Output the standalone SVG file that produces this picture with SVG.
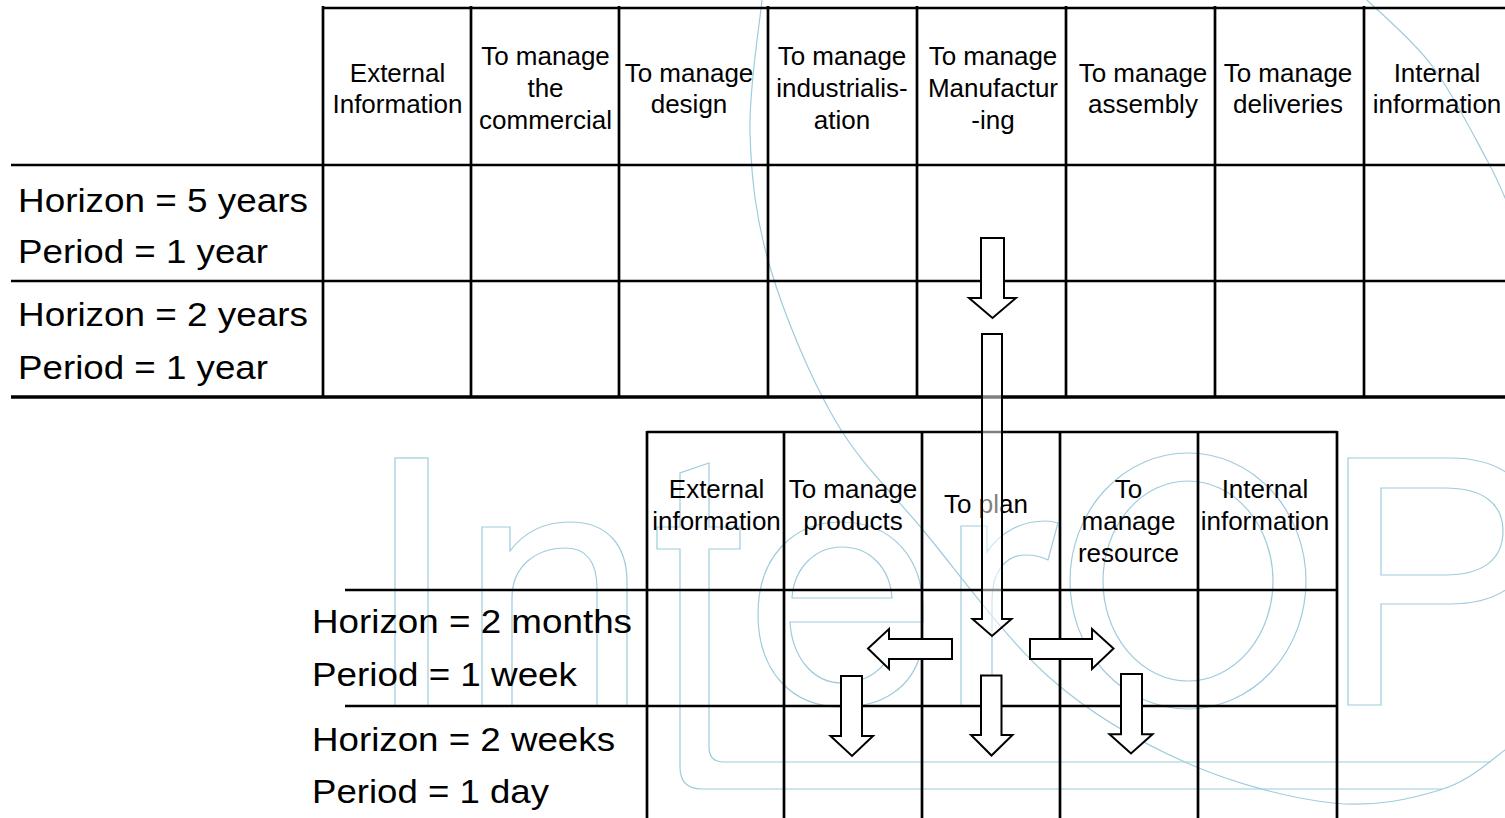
<svg xmlns="http://www.w3.org/2000/svg" width="1505" height="818" viewBox="0 0 1505 818">
  <style>
    .wm{fill:none;stroke:#9fcbdd;stroke-width:1.2}
    .grid{fill:none;stroke:#000;stroke-width:2.7}
    .thick{stroke-width:3.5}
    .hd{font-family:"Liberation Sans",Arial,sans-serif;font-size:26px;fill:#000;text-anchor:middle}
    .lbl{font-family:"Liberation Sans",Arial,sans-serif;font-size:33px;fill:#000}
    .arrow{fill:#fff;stroke:#000;stroke-width:2;stroke-linejoin:miter}
    .arrow-see{fill:#fff;fill-opacity:0.5;stroke:#000;stroke-width:2;stroke-linejoin:miter}
  </style>

  <rect x="0" y="0" width="1505" height="818" fill="#fff"/>

  <!-- light-blue logo outline in the background -->
  <g id="watermark" class="wm">
    <!-- I -->
    <rect x="395" y="458" width="33" height="248"/>
    <!-- n -->
    <path d="M482,706 V527 H510 V551 C525,531 546,522 570,522 C608,522 627,546 627,582 V706 H597 V588 C597,562 586,548 566,548 C536,548 512,566 512,598 V706 Z"/>
    <!-- t with the underline sweep -->
    <path d="M1490,762 H724 Q709,762 709,747 V549 H740 V527 H709 V463 L680,473 V527 H657 V549 H680 V767 Q680,789 702,789 H1442"/>
    <!-- e -->
    <path d="M923,622 H790 C792,656 812,683 842,683 C866,683 885,670 893,648 L921,652 C912,688 882,707 842,707 C792,707 758,672 758,614 C758,558 792,522 841,522 C891,522 923,557 923,610 Z"/>
    <path d="M792,598 H892 C890,568 870,547 842,547 C815,547 794,568 792,598 Z"/>
    <!-- r -->
    <path d="M961,706 V526 H987 V552 C1000,532 1022,521 1045,521 C1050,521 1055,522 1058,523 L1048,560 C1042,557 1034,555 1026,555 C1005,555 992,572 992,600 V706 Z"/>
    <!-- O -->
    <ellipse cx="1188" cy="581" rx="118" ry="128"/>
    <ellipse cx="1188" cy="581" rx="85" ry="100"/>
    <!-- P -->
    <path d="M1348,705 V458 H1450 C1495,458 1535,478 1535,531 C1535,584 1495,604 1450,604 H1381 V705 Z"/>
    <path d="M1381,488 H1445 C1482,488 1503,503 1503,531 C1503,560 1482,575 1445,575 H1381 Z"/>
    <!-- swoosh -->
    <path d="M762,0 C760,22 748.7,88.5 750,133 C751.3,177.5 755.8,219.2 770,267 C784.2,314.8 809.5,376.2 835,420 C860.5,463.8 887.2,487 923,530 C958.8,573 1006,639.2 1050,678 C1094,716.8 1139.8,742.2 1187,763 C1234.2,783.8 1290.8,798.5 1333,803 C1375.2,807.5 1411.3,798.8 1440,790 C1468.7,781.2 1485,765 1505,750 C1525,735 1545,715 1560,700"/>
    <path d="M1367,0 C1378,11 1413,40 1433,67 C1453,94 1475,138 1487,160 C1499,182 1502,190 1510,210"/>
  </g>

  <!-- upper grid: long-range levels -->
  <g id="strategic-grid" class="grid">
    <line x1="323" y1="8" x2="1505" y2="8"/>
    <line x1="11" y1="165" x2="1505" y2="165"/>
    <line x1="11" y1="281" x2="1505" y2="281"/>
    <line x1="11" y1="397" x2="1505" y2="397" class="thick"/>
    <line x1="323" y1="6" x2="323" y2="396"/>
    <line x1="471" y1="6" x2="471" y2="396"/>
    <line x1="619" y1="6" x2="619" y2="396"/>
    <line x1="768" y1="6" x2="768" y2="396"/>
    <line x1="917" y1="6" x2="917" y2="396"/>
    <line x1="1066" y1="6" x2="1066" y2="396"/>
    <line x1="1215" y1="6" x2="1215" y2="396"/>
    <line x1="1364" y1="6" x2="1364" y2="396"/>
  </g>

  <!-- lower grid: short-range levels -->
  <g id="tactical-grid" class="grid">
    <line x1="647" y1="432" x2="1337" y2="432"/>
    <line x1="345" y1="590" x2="1336" y2="590"/>
    <line x1="345" y1="706" x2="1336" y2="706"/>
    <line x1="647" y1="431" x2="647" y2="818"/>
    <line x1="784" y1="431" x2="784" y2="818"/>
    <line x1="922" y1="431" x2="922" y2="818"/>
    <line x1="1060" y1="431" x2="1060" y2="818"/>
    <line x1="1198" y1="431" x2="1198" y2="818"/>
    <line x1="1337" y1="431" x2="1337" y2="818"/>
  </g>

  <!-- upper column headers -->
  <g id="col-external-information" class="hd"><text x="397.5" y="82">External</text><text x="397.5" y="113">Information</text></g>
  <g id="col-commercial" class="hd"><text x="545.5" y="65">To manage</text><text x="545.5" y="97">the</text><text x="545.5" y="128.5">commercial</text></g>
  <g id="col-design" class="hd"><text x="689" y="82">To manage</text><text x="689" y="113">design</text></g>
  <g id="col-industrialisation" class="hd"><text x="842" y="65">To manage</text><text x="842" y="97">industrialis-</text><text x="842" y="128.5">ation</text></g>
  <g id="col-manufacturing" class="hd"><text x="993" y="65">To manage</text><text x="993" y="97">Manufactur</text><text x="993" y="128.5">-ing</text></g>
  <g id="col-assembly" class="hd"><text x="1143" y="82">To manage</text><text x="1143" y="113">assembly</text></g>
  <g id="col-deliveries" class="hd"><text x="1288" y="82">To manage</text><text x="1288" y="113">deliveries</text></g>
  <g id="col-internal-information" class="hd"><text x="1437" y="82">Internal</text><text x="1437" y="113">information</text></g>

  <!-- upper row labels -->
  <g id="row-5-years" class="lbl">
    <text x="18" y="211.5" textLength="290" lengthAdjust="spacingAndGlyphs">Horizon = 5 years</text>
    <text x="18" y="262.5" textLength="250" lengthAdjust="spacingAndGlyphs">Period = 1 year</text>
  </g>
  <g id="row-2-years" class="lbl">
    <text x="18" y="325.5" textLength="290" lengthAdjust="spacingAndGlyphs">Horizon = 2 years</text>
    <text x="18" y="379" textLength="250" lengthAdjust="spacingAndGlyphs">Period = 1 year</text>
  </g>

  <!-- lower column headers -->
  <g id="sub-external-information" class="hd"><text x="716.5" y="498">External</text><text x="716.5" y="529.5">information</text></g>
  <g id="sub-products" class="hd"><text x="853" y="498">To manage</text><text x="853" y="529.5">products</text></g>
  <g id="sub-plan" class="hd"><text x="986" y="513">To plan</text></g>
  <g id="sub-resource" class="hd"><text x="1128.5" y="498">To</text><text x="1128.5" y="530">manage</text><text x="1128.5" y="561.5">resource</text></g>
  <g id="sub-internal-information" class="hd"><text x="1265" y="498">Internal</text><text x="1265" y="530">information</text></g>

  <!-- lower row labels -->
  <g id="row-2-months" class="lbl">
    <text x="312" y="632.5" textLength="320" lengthAdjust="spacingAndGlyphs">Horizon = 2 months</text>
    <text x="312" y="686" textLength="265" lengthAdjust="spacingAndGlyphs">Period = 1 week</text>
  </g>
  <g id="row-2-weeks" class="lbl">
    <text x="312" y="750.5" textLength="303" lengthAdjust="spacingAndGlyphs">Horizon = 2 weeks</text>
    <text x="312" y="802.5" textLength="237" lengthAdjust="spacingAndGlyphs">Period = 1 day</text>
  </g>

  <!-- block arrows -->
  <g id="connectors">
    <path class="arrow" d="M981,238 H1004 V298 H1016 L992.5,318 L969,298 H981 Z"/>
    <path class="arrow-see" d="M982,334 H1002 V619 H1011.5 L992,636 L972.5,619 H982 Z"/>
    <path class="arrow" d="M952,639 V659 H889 V669 L868,648.5 L889,629 V639 Z"/>
    <path class="arrow" d="M1030,639 H1092 V629 L1113.5,648.5 L1092,669 V659 H1030 Z"/>
    <path class="arrow" d="M841,676 H862 V736 H873 L852,756 L830.5,736 H841 Z"/>
    <path class="arrow" d="M981,675.5 H1001.5 V735 H1012.5 L991.5,755.5 L971,735 H981 Z"/>
    <path class="arrow" d="M1121,674 H1142 V734.3 H1152.5 L1131,753.5 L1109.5,734.3 H1121 Z"/>
  </g>
</svg>
